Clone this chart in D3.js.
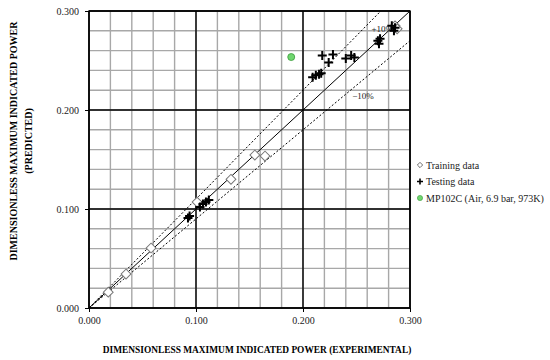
<!DOCTYPE html>
<html>
<head>
<meta charset="utf-8">
<script src="https://cdn.jsdelivr.net/npm/d3@7/dist/d3.min.js"></script>
<style>
  body { margin: 0; background: #fff; }
  svg text { font-family: "Liberation Serif", "DejaVu Serif", serif; }
</style>
</head>
<body>
<script>
var width = 550,
    height = 360;

// training data (experimental, predicted)
var trainX = [0.018, 0.0346, 0.058, 0.101, 0.1327, 0.155, 0.1645, 0.286, 0.288];
var trainY = [0.016, 0.0343, 0.0606, 0.107, 0.130, 0.1545, 0.1535, 0.285, 0.282];

// testing data
var testX = [0.0925, 0.094, 0.1037, 0.1065, 0.1093, 0.112, 0.209, 0.212, 0.215, 0.217, 0.218, 0.224, 0.228, 0.240, 0.245, 0.248, 0.270, 0.272, 0.271, 0.283, 0.286, 0.285];
var testY = [0.091, 0.093, 0.102, 0.105, 0.107, 0.109, 0.233, 0.235, 0.236, 0.237, 0.255, 0.248, 0.256, 0.252, 0.255, 0.253, 0.270, 0.272, 0.267, 0.285, 0.283, 0.280];

// MP102C point
var mpX = [0.189];
var mpY = [0.2535];

var tickVals = [0.0, 0.1, 0.2, 0.3];
var minorVals = d3.range(0, 0.3001, 0.02);
var legendLabels = ["Training data", "Testing data", "MP102C (Air, 6.9 bar, 973K)"];

var x = d3.scaleLinear().domain([0, 0.3]).range([89, 410]);
var y = d3.scaleLinear().domain([0, 0.3]).range([308, 11]);

var svg = d3.select("body").append("svg")
    .attr("width", width)
    .attr("height", height);

// minor grid
svg.append("g").selectAll("line")
    .data(minorVals)
    .enter().append("line")
    .attr("x1", function (d) { return x(d); })
    .attr("x2", function (d) { return x(d); })
    .attr("y1", y(0)).attr("y2", y(0.3))
    .attr("stroke", "#a8a8a8").attr("stroke-width", 1.4);
svg.append("g").selectAll("line")
    .data(minorVals)
    .enter().append("line")
    .attr("y1", function (d) { return y(d); })
    .attr("y2", function (d) { return y(d); })
    .attr("x1", x(0)).attr("x2", x(0.3))
    .attr("stroke", "#a8a8a8").attr("stroke-width", 1.4);

// major grid
svg.append("g").selectAll("line")
    .data(tickVals)
    .enter().append("line")
    .attr("x1", function (d) { return x(d); })
    .attr("x2", function (d) { return x(d); })
    .attr("y1", y(0)).attr("y2", y(0.3))
    .attr("stroke", "#000").attr("stroke-width", 1.4);
svg.append("g").selectAll("line")
    .data(tickVals)
    .enter().append("line")
    .attr("y1", function (d) { return y(d); })
    .attr("y2", function (d) { return y(d); })
    .attr("x1", x(0)).attr("x2", x(0.3))
    .attr("stroke", "#000").attr("stroke-width", 1.4);

// axes
var xAxis = d3.axisBottom(x).tickValues(tickVals).tickFormat(d3.format(".3f")).tickSize(4).tickPadding(5);
var yAxis = d3.axisLeft(y).tickValues(tickVals).tickFormat(d3.format(".3f")).tickSize(4).tickPadding(6);

svg.append("g")
    .attr("transform", "translate(0," + y(0) + ")")
    .call(xAxis)
    .call(function (g) { g.select(".domain").remove(); })
    .selectAll("text").style("font-size", "10px").style("fill", "#222").style("font-family", "Liberation Serif");
svg.append("g")
    .attr("transform", "translate(" + x(0) + ",0)")
    .call(yAxis)
    .call(function (g) { g.select(".domain").remove(); })
    .selectAll("text").style("font-size", "10px").style("fill", "#222").style("font-family", "Liberation Serif");

// reference lines
var line = d3.line().x(function (d) { return x(d[0]); }).y(function (d) { return y(d[1]); });
svg.append("path").attr("d", line([[0, 0], [0.3, 0.3]]))
    .attr("stroke", "#000").attr("stroke-width", 1).attr("fill", "none");
svg.append("path").attr("d", line([[0, 0], [0.3 / 1.1, 0.3]]))
    .attr("stroke", "#000").attr("stroke-width", 1).attr("stroke-dasharray", "2,2").attr("fill", "none");
svg.append("path").attr("d", line([[0, 0], [0.3, 0.27]]))
    .attr("stroke", "#000").attr("stroke-width", 1).attr("stroke-dasharray", "2,2").attr("fill", "none");

svg.append("text").attr("x", x(0.264)).attr("y", y(0.279))
    .style("font-size", "9px").style("fill", "#222").text("+10%");
svg.append("text").attr("x", x(0.246)).attr("y", y(0.211))
    .style("font-size", "9px").style("fill", "#222").text("\u221210%");

// markers
var diamond = d3.symbol().type(d3.symbolSquare).size(48);
var crossPath = "M-4.5,0H4.5M0,-4.5V4.5";

svg.append("g").selectAll("path")
    .data(trainX)
    .enter().append("path")
    .attr("d", diamond)
    .attr("transform", function (d, i) { return "translate(" + x(d) + "," + y(trainY[i]) + ")rotate(45)"; })
    .attr("fill", "#fff").attr("stroke", "#777").attr("stroke-width", 1);

svg.append("g").selectAll("path")
    .data(testX)
    .enter().append("path")
    .attr("d", crossPath)
    .attr("transform", function (d, i) { return "translate(" + x(d) + "," + y(testY[i]) + ")"; })
    .attr("stroke", "#000").attr("stroke-width", 2);

svg.append("g").selectAll("circle")
    .data(mpX)
    .enter().append("circle")
    .attr("cx", function (d) { return x(d); })
    .attr("cy", function (d, i) { return y(mpY[i]); })
    .attr("r", 3.5)
    .attr("fill", "#6fd66f").attr("stroke", "#3a9a3a").attr("stroke-width", 0.8);

// border
svg.append("rect")
    .attr("x", x(0)).attr("y", y(0.3))
    .attr("width", x(0.3) - x(0)).attr("height", y(0) - y(0.3))
    .attr("fill", "none").attr("stroke", "#000").attr("stroke-width", 1.4);

// legend
var legend = svg.append("g").attr("transform", "translate(420,165)");
legendLabels.forEach(function (lab, i) {
    var g = legend.append("g").attr("transform", "translate(0," + i * 16.5 + ")");
    if (i === 0) {
        g.append("path").attr("d", d3.symbol().type(d3.symbolSquare).size(14))
            .attr("transform", "rotate(45)")
            .attr("fill", "#fff").attr("stroke", "#555").attr("stroke-width", 0.8);
    } else if (i === 1) {
        g.append("path").attr("d", "M-3,0H3M0,-3V3").attr("stroke", "#000").attr("stroke-width", 1.6);
    } else {
        g.append("circle").attr("r", 2.6).attr("fill", "#6fd66f").attr("stroke", "#3a9a3a").attr("stroke-width", 0.6);
    }
    g.append("text").attr("x", 6).attr("dy", "0.35em")
        .style("font-size", "10px").style("fill", "#222").text(lab);
});

// axis titles
svg.append("text")
    .attr("x", 257).attr("y", 353)
    .attr("text-anchor", "middle")
    .style("font-size", "9.4px").style("font-weight", "bold")
    .text("DIMENSIONLESS MAXIMUM INDICATED POWER (EXPERIMENTAL)");

var yt = svg.append("text")
    .attr("transform", "translate(0,141)rotate(-90)")
    .attr("text-anchor", "middle")
    .style("font-size", "10px").style("font-weight", "bold");
yt.append("tspan").attr("x", 0).attr("y", 17).text("DIMENSIONLESS MAXIMUM INDICATED POWER");
yt.append("tspan").attr("x", 0).attr("y", 32).text("(PREDICTED)");
</script>
</body>
</html>
